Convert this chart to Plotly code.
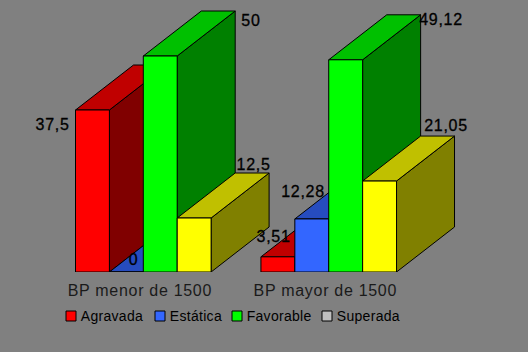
import plotly.graph_objects as go

categories = ["BP menor de 1500", "BP mayor de 1500"]
series_names = ["Agravada", "Estática", "Favorable", "Superada"]
agravada = [37.5, 3.51]
estatica = [0, 12.28]
favorable = [50, 49.12]
superada = [12.5, 21.05]
value_labels = [["37,5", "3,51"], ["0", "12,28"], ["50", "49,12"], ["12,5", "21,05"]]

# styling
front = ["#FF0000", "#3366FF", "#00FF00", "#FFFF00"]
top = ["#C00000", "#264CBF", "#00C000", "#C0C000"]
side = ["#800000", "#1A3380", "#008000", "#808000"]
legend_swatch = ["#FF0000", "#3366FF", "#00FF00", "#C0C0C0"]
label_shift_by_cat = [
    [(-23, -14), (13, 20)],      # Agravada
    [(24, 13), (8, 27)],         # Estática
    [(108, 36), (112, 40)],      # Favorable
    [(76, 54), (83, 56)],        # Superada
]

W, H = 528, 352
BASE_PX, LEFT_PX, SLOT_PX, PX_PER_UNIT = 272, 75.5, 33.9, 4.32
GROUP_STEP = 5.47          # slots between the two groups
DX = 58 / SLOT_PX          # 3D depth in slot units
DY = 45 / PX_PER_UNIT      # 3D depth in value units
FONT = "Liberation Sans"

series = [agravada, estatica, favorable, superada]
fig = go.Figure()


def face(xs, ys, color):
    fig.add_trace(go.Scatter(
        x=xs + xs[:1], y=ys + ys[:1], mode="lines", fill="toself",
        fillcolor=color, line=dict(color="black", width=1),
        hoverinfo="skip", showlegend=False))


annotations = []
for c in range(len(categories)):
    for s, vals in enumerate(series):
        x0 = c * GROUP_STEP + s
        x1 = x0 + 1
        v = vals[c]
        face([x1, x1 + DX, x1 + DX, x1], [0, DY, v + DY, v], side[s])
        face([x0, x1, x1 + DX, x0 + DX], [v, v, v + DY, v + DY], top[s])
        face([x0, x1, x1, x0], [0, 0, v, v], front[s])
        dx, dy = label_shift_by_cat[s][c]
        annotations.append(dict(
            x=x0, y=v, xref="x", yref="y", text=value_labels[s][c],
            showarrow=False, xanchor="center", yanchor="middle",
            xshift=dx, yshift=dy,
            font=dict(family=FONT, size=16, color="black")))

# legend, laid out in page fractions
legend_x = [66, 155, 232, 322]
shapes = []
for name, col, lx in zip(series_names, legend_swatch, legend_x):
    shapes.append(dict(type="rect", xref="paper", yref="paper", layer="above",
                       x0=lx / W, x1=(lx + 10) / W,
                       y0=(BASE_PX - 316 - 5) / BASE_PX, y1=(BASE_PX - 316 + 5) / BASE_PX,
                       fillcolor=col, line=dict(color="black", width=1)))
    annotations.append(dict(
        x=(lx + 14) / W, y=(BASE_PX - 316) / BASE_PX, xref="paper", yref="paper",
        text=name, showarrow=False, xanchor="left", yanchor="middle",
        font=dict(family=FONT, size=14, color="black")))

fig.update_layout(
    width=W, height=H, autosize=False,
    margin=dict(l=0, r=0, t=0, b=H - BASE_PX, pad=0),
    paper_bgcolor="#808080", plot_bgcolor="rgba(0,0,0,0)",
    showlegend=False, hovermode=False,
    annotations=annotations, shapes=shapes,
    xaxis=dict(range=[-LEFT_PX / SLOT_PX, (W - LEFT_PX) / SLOT_PX],
               tickmode="array",
               tickvals=[c * GROUP_STEP + 2 - 0.1 for c in range(len(categories))],
               ticktext=categories, ticks="outside", ticklen=4,
               tickcolor="rgba(0,0,0,0)", showgrid=False, zeroline=False,
               showline=False, fixedrange=True,
               tickfont=dict(family=FONT, size=16, color="#1a1a1a")),
    yaxis=dict(range=[0, BASE_PX / PX_PER_UNIT], visible=False, fixedrange=True,
               showgrid=False, zeroline=False),
)

page_css = """
var st = document.createElement('style');
st.textContent = 'html,body{margin:0;padding:0;background:#808080;overflow:hidden}'
  + ' .annotation-text,.xtick text{letter-spacing:.7px}'
  + ' .annotation-text[style*="16px"]{stroke:#000;stroke-width:.3px}'
  + ' .annotation-text[style*="14px"]{letter-spacing:.3px}';
document.head.appendChild(st);
"""
fig.write_html("out.html", post_script=page_css, config={"displayModeBar": False})
